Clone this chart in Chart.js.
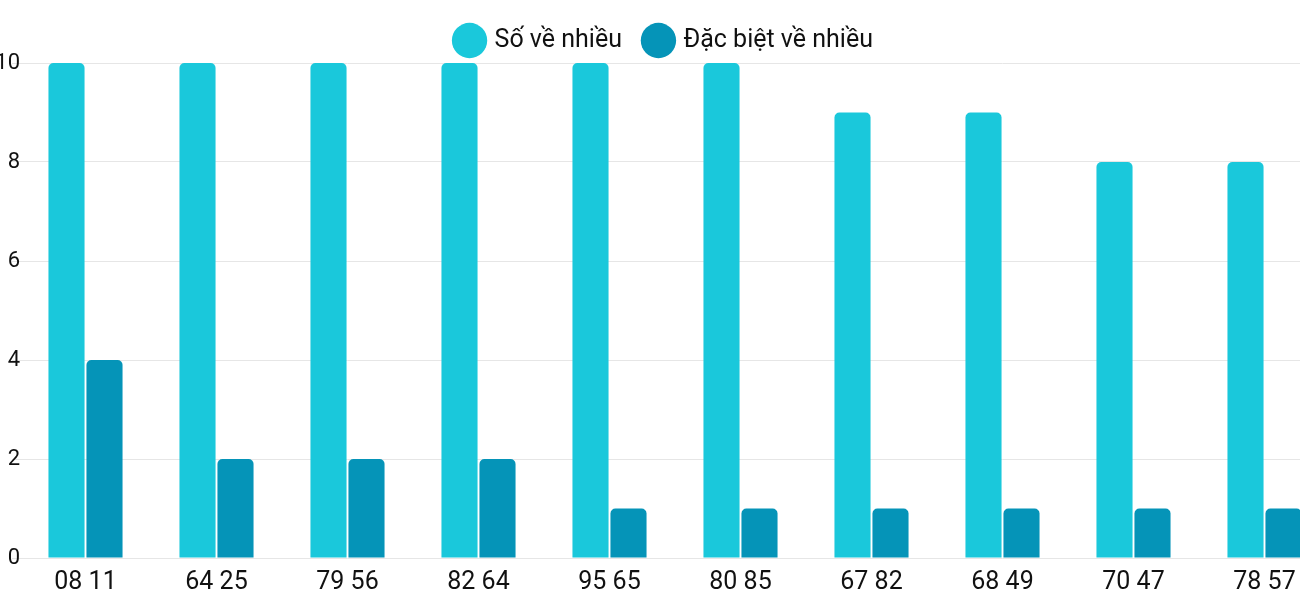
<!DOCTYPE html>
<html><head><meta charset="utf-8">
<script src="https://cdn.jsdelivr.net/npm/chart.js@4"></script>
<style>
html,body{margin:0;padding:0;background:#fff;overflow:hidden;}
#wrap{width:1330px;height:600px;}
</style></head>
<body>
<div id="wrap"><canvas id="c"></canvas></div>
<script>
const labels = ['08 11','64 25','79 56','82 64','95 65','80 85','67 82','68 49','70 47','78 57'];
const soVeNhieu = [10,10,10,10,10,10,9,9,8,8];
const dacBiet = [4,2,2,2,1,1,1,1,1,1];
const yTicks = [0,2,4,6,8,10];

const font = { family: 'Roboto', size: 25 };

new Chart(document.getElementById('c'), {
  type: 'bar',
  data: {
    labels,
    datasets: [
      { label: 'Số về nhiều', data: soVeNhieu, backgroundColor: '#1ac8db', borderRadius: {topLeft:5,topRight:5}, borderSkipped: 'bottom', barPercentage: 0.95, categoryPercentage: 0.58 },
      { label: 'Đặc biệt về nhiều', data: dacBiet, backgroundColor: '#0594b8', borderRadius: {topLeft:5,topRight:5}, borderSkipped: 'bottom', barPercentage: 0.95, categoryPercentage: 0.58 },
    ]
  },
  options: {
    responsive: true, maintainAspectRatio: false, animation: false,
    layout: { padding: { top: 4, right: 0, left: 0, bottom: 0 } },
    plugins: {
      legend: { position: 'top', labels: { usePointStyle: true, pointStyle: 'circle', boxWidth: 27, boxHeight: 27, color: '#111', font, padding: 24 } },
      tooltip: { enabled: false }
    },
    scales: {
      x: { grid: { display: false }, border: { display: false }, ticks: { color: '#111', font, padding: 2 } },
      y: {
        min: 0, max: 10,
        afterFit: s => { s.width = 20; },
        afterBuildTicks: s => { s.ticks = yTicks.map(v => ({ value: v })); },
        grid: { color: '#e6e6e6' }, border: { display: false },
        ticks: { color: '#111', font: { family: 'Roboto', size: 22 }, padding: -8 }
      }
    }
  }
});
</script>
</body></html>
